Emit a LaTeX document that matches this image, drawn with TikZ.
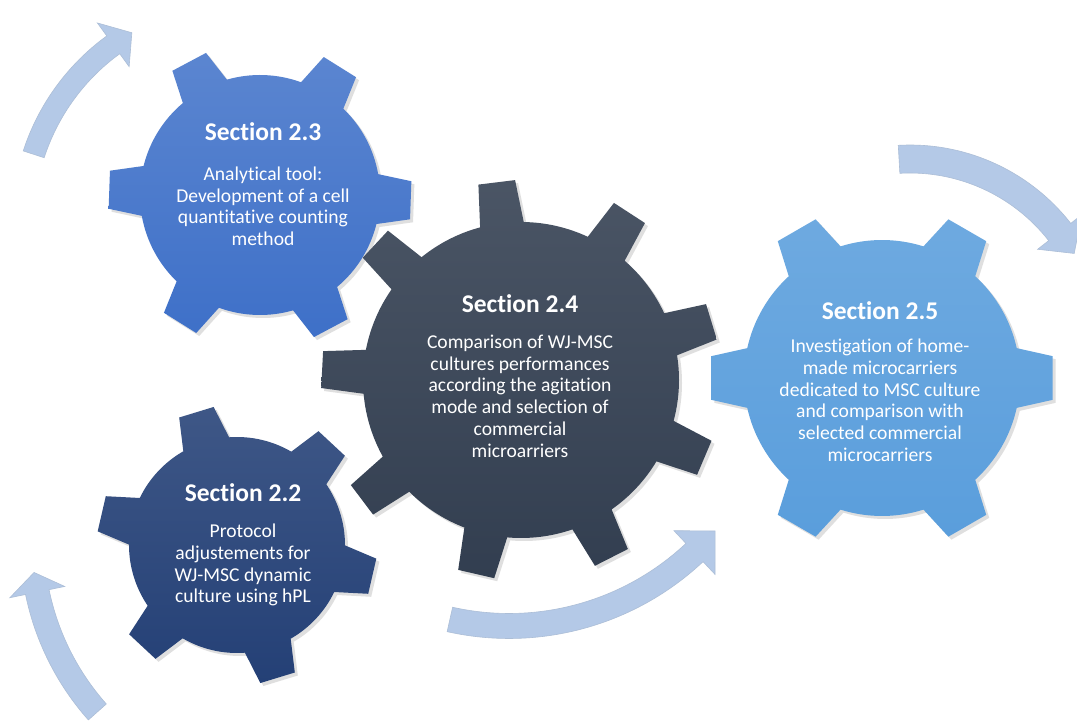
\documentclass[tikz,border=0pt]{standalone}
\usepackage{fontspec}
\setmainfont{Carlito}[Ligatures=NoCommon]
\usetikzlibrary{shadows}
\definecolor{gearA}{RGB}{62,112,200}
\definecolor{gearB}{RGB}{50,62,80}
\definecolor{gearC}{RGB}{36,64,118}
\definecolor{gearD}{RGB}{90,158,220}
\definecolor{arrowc}{RGB}{180,201,231}
% cx, cy, teeth, offset, body r, tip R, base half-angle, tip half-angle, style
\newcommand{\drawgear}[9]{%
  \path[#9, shift={(#1,#2)}] ({#4-#7}:#5)
  \foreach \i in {1,...,#3}{
    -- ({#4+360*(\i-1)/#3-#7}:#5) -- ({#4+360*(\i-1)/#3-#8}:#6)
    -- ({#4+360*(\i-1)/#3+#8}:#6) -- ({#4+360*(\i-1)/#3+#7}:#5)
    arc[start angle={#4+360*(\i-1)/#3+#7}, end angle={#4+360*\i/#3-#7}, radius=#5]
  } -- cycle;}
% cx, cy, R, start, end, shaft half, head half, tip angle, style
\newcommand{\curvarrow}[9]{%
  \path[#9, shift={(#1,#2)}] ({#4}:{#3+#6})
    arc[start angle=#4, end angle=#5, radius={#3+#6}]
    -- ({#5}:{#3+#7}) -- ({#8}:#3) -- ({#5}:{#3-#7}) -- ({#5}:{#3-#6})
    arc[start angle=#5, end angle=#4, radius={#3-#6}] -- cycle;}
\tikzset{
  gear/.style={drop shadow={opacity=0.25, shadow xshift=1.5pt, shadow yshift=-1.5pt}},
  arrowshape/.style={fill=arrowc, draw=arrowc!85!gray, line width=0.3pt},
  ttl/.style={text=white, font=\bfseries\fontsize{12.75}{15}\selectfont, anchor=base, inner sep=0pt},
  body/.style={text=white, font=\fontsize{9.8}{10.9}\selectfont, align=center, anchor=north, inner sep=0pt}
}
\begin{document}
\begin{tikzpicture}[x=0.5pt, y=0.5pt]
\clip (0,0) rectangle (1077,724);
\fill[white] (0,0) rectangle (1077,724);
% arrows
\curvarrow{242}{502}{219}{162}{126}{11}{27}{120.2}{arrowshape}
\curvarrow{910}{375}{190}{93.3}{38}{14}{28}{30.2}{arrowshape}
\curvarrow{509}{369}{271}{-102.6}{-46.8}{12.5}{30}{-40.5}{arrowshape}
\curvarrow{291}{184}{259}{221.6}{191.6}{12}{28}{187.2}{arrowshape}
% gears
\drawgear{260}{529}{6}{-2}{120}{152}{12}{7.2}{gear, top color=gearA!85!white, bottom color=gearA}
\drawgear{521}{344}{9}{17}{158}{200}{8}{5.3}{gear, top color=gearB!88!white, bottom color=gearB}
\drawgear{237}{179}{6}{-13}{108}{140}{12.8}{7.4}{gear, top color=gearC!88!white, bottom color=gearC}
\drawgear{882}{346}{6}{0}{138}{172}{12.5}{7.3}{gear, top color=gearD!88!white, bottom color=gearD}
% texts
\node[ttl] (t23) at (263,583) {Section 2.3};
\node[body] (b23) at (263,560) {\rule{0pt}{8pt}Analytical tool:\\Development of a cell\\quantitative counting\\method};
\node[ttl] (t24) at (520,411) {Section 2.4};
\node[body] (b24) at (520,392) {\rule{0pt}{8pt}Comparison of WJ-MSC\\cultures performances\\according the agitation\\mode and selection of\\commercial\\microarriers};
\node[ttl] (t25) at (880,404) {Section 2.5};
\node[body] (b25) at (880,388) {\rule{0pt}{8pt}Investigation of home-\\made microcarriers\\dedicated to MSC culture\\and comparison with\\selected commercial\\microcarriers};
\node[ttl] (t22) at (243,223) {Section 2.2};
\node[body] (b22) at (243,203) {\rule{0pt}{8pt}Protocol\\adjustements for\\WJ-MSC dynamic\\culture using hPL};
\end{tikzpicture}
\end{document}
